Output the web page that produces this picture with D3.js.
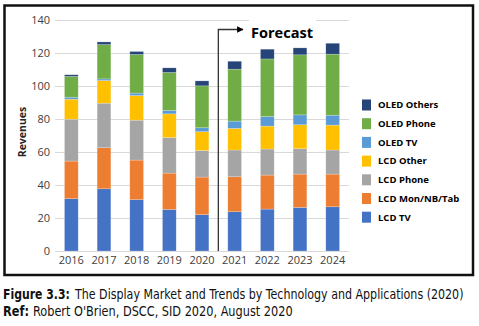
<!DOCTYPE html>
<html>
<head>
<meta charset="utf-8">
<script src="https://cdn.jsdelivr.net/npm/d3@7"></script>
<style>
  body { margin: 0; background: #fff; }
  svg { display: block; }
  .tick-label { font-family: "Open Sans", "Noto Sans", sans-serif; font-size: 11px; fill: #404040; }
  .legend-label { font-family: "Open Sans", "Noto Sans", sans-serif; font-size: 9.5px; font-weight: bold; fill: #000; }
  .caption { font-family: "Liberation Sans Narrow", "DejaVu Sans Condensed", sans-serif; font-size: 14px; fill: #111; }
</style>
</head>
<body>
<div id="chart"></div>
<script>
// revenues by year, $B
let years = ["2016", "2017", "2018", "2019", "2020", "2021", "2022", "2023", "2024"];
let lcdTv      = [31.7, 37.7, 31.1, 25.2, 22.0, 23.8, 25.4, 26.4, 26.8];
let lcdMon     = [22.8, 24.9, 24.0, 22.0, 22.8, 21.2, 20.6, 20.2, 19.8];
let lcdPhone   = [25.4, 27.0, 24.2, 21.6, 16.1, 16.2, 15.8, 15.4, 14.6];
let lcdOther   = [12.1, 13.7, 14.9, 14.3, 11.4, 13.1, 13.9, 14.5, 15.1];
let oledTv     = [1.2, 1.0, 1.5, 2.1, 2.4, 4.4, 5.8, 6.0, 6.0];
let oledPhone  = [12.6, 20.8, 23.4, 23.0, 25.4, 31.5, 34.9, 36.4, 37.0];
let oledOthers = [1.0, 1.6, 1.8, 2.8, 3.0, 4.8, 5.9, 4.2, 6.6];
let yTicks = [0, 20, 40, 60, 80, 100, 120, 140];

let seriesNames = ["LCD TV", "LCD Mon/NB/Tab", "LCD Phone", "LCD Other", "OLED TV", "OLED Phone", "OLED Others"];
let seriesData = [lcdTv, lcdMon, lcdPhone, lcdOther, oledTv, oledPhone, oledOthers];
let colors = ["#4472C4", "#ED7D31", "#A5A5A5", "#FFC000", "#5B9BD5", "#70AD47", "#264478"];

let width = 479, height = 326;

let svg = d3.select("#chart")
  .append("svg")
    .attr("width", width)
    .attr("height", height);

// build rows for d3.stack
let rows = years.map((yr, i) => {
  let row = {year: yr};
  seriesNames.forEach((name, j) => { row[name] = seriesData[j][i]; });
  return row;
});
let stacked = d3.stack().keys(seriesNames)(rows);

let x = d3.scaleBand()
  .domain(years)
  .range([55, 349])
  .paddingInner(0.58)
  .paddingOuter(0.29);

let y = d3.scaleLinear()
  .domain([0, 140])
  .range([251, 20]);

// gridlines
svg.append("g")
  .selectAll("line")
  .data(yTicks)
  .join("line")
    .attr("x1", 55)
    .attr("x2", 349)
    .attr("y1", d => Math.round(y(d)) + 0.5)
    .attr("y2", d => Math.round(y(d)) + 0.5)
    .style("stroke", "#d9d9d9")
    .style("stroke-width", 1);

// y tick labels
svg.append("g")
  .selectAll("text")
  .data(yTicks)
  .join("text")
    .attr("class", "tick-label")
    .attr("x", 50)
    .attr("y", d => y(d))
    .attr("dy", "0.35em")
    .attr("text-anchor", "end")
    .text(d => d);

// x tick labels
svg.append("g")
  .selectAll("text")
  .data(years)
  .join("text")
    .attr("class", "tick-label")
    .attr("x", d => x(d) + x.bandwidth() / 2)
    .attr("y", 264)
    .attr("text-anchor", "middle")
    .text(d => d);

// axis title
svg.append("text")
  .attr("transform", "translate(26,132) rotate(-90)")
  .attr("text-anchor", "middle")
  .style("font-family", "'Open Sans', sans-serif")
  .style("font-size", "10.5px")
  .style("font-weight", "bold")
  .style("fill", "#262626")
  .text("Revenues");

// stacked bars
svg.append("g")
  .selectAll("g")
  .data(stacked)
  .join("g")
    .attr("fill", (d, i) => colors[i])
  .selectAll("rect")
  .data(d => d)
  .join("rect")
    .attr("x", d => x(d.data.year))
    .attr("y", d => y(d[1]))
    .attr("width", x.bandwidth())
    .attr("height", d => y(d[0]) - y(d[1]))
    .style("stroke", "#ffffff")
    .style("stroke-opacity", 0.35)
    .style("stroke-width", 0.6);

// forecast marker
let markX = (x("2020") + x.bandwidth() + x("2021")) / 2;
svg.append("defs").append("marker")
  .attr("id", "arrow")
  .attr("viewBox", "0 0 10 10")
  .attr("refX", 9)
  .attr("refY", 5)
  .attr("markerWidth", 5)
  .attr("markerHeight", 5)
  .attr("orient", "auto")
  .append("path")
    .attr("d", "M0,0 L10,5 L0,10 z")
    .attr("fill", "#000");

svg.append("path")
  .attr("d", "M" + markX + "," + y(0) + " V29.5 H243")
  .attr("fill", "none")
  .attr("stroke", "#333")
  .attr("stroke-width", 1.3)
  .attr("marker-end", "url(#arrow)");

svg.append("rect")
  .attr("x", 249)
  .attr("y", 16)
  .attr("width", 67)
  .attr("height", 10)
  .style("fill", "#fff");

svg.append("text")
  .attr("x", 251)
  .attr("y", 37.5)
  .attr("textLength", 62)
  .attr("lengthAdjust", "spacingAndGlyphs")
  .style("font-family", "'Open Sans', sans-serif")
  .style("font-size", "15px")
  .style("font-weight", "bold")
  .style("fill", "#000")
  .text("Forecast");

// legend, top entry is the top of the stack
let legendOrder = d3.range(seriesNames.length).reverse();
let legend = svg.append("g")
  .selectAll("g")
  .data(legendOrder)
  .join("g")
    .attr("transform", (d, i) => "translate(362," + (105 + i * 18.7) + ")");

legend.append("rect")
  .attr("x", 0)
  .attr("y", -5.5)
  .attr("width", 9)
  .attr("height", 11)
  .style("fill", d => colors[d]);

legend.append("text")
  .attr("class", "legend-label")
  .attr("x", 16)
  .attr("dy", "0.35em")
  .text(d => seriesNames[d]);

// frame
svg.append("rect")
  .attr("x", 4.5)
  .attr("y", 5.5)
  .attr("width", 468.5)
  .attr("height", 269.5)
  .style("fill", "none")
  .style("stroke", "#111")
  .style("stroke-width", 2.5);

// caption: each piece is squeezed horizontally to its target width
let captionParts = [
  {text: "Figure 3.3:", x: 3, y: 299, w: 67, bold: true},
  {text: "The Display Market and Trends by Technology and Applications (2020)", x: 75, y: 299, w: 389, bold: false},
  {text: "Ref:", x: 3, y: 316, w: 26, bold: true},
  {text: "Robert O'Brien, DSCC, SID 2020, August 2020", x: 33, y: 316, w: 260, bold: false}
];

svg.append("g")
  .selectAll("text")
  .data(captionParts)
  .join("text")
    .attr("class", "caption")
    .style("font-weight", d => d.bold ? "bold" : "normal")
    .text(d => d.text)
    .attr("transform", function(d) {
      let natural = this.getComputedTextLength();
      return "translate(" + d.x + "," + d.y + ") scale(" + (d.w / natural) + ",1)";
    });
</script>
</body>
</html>
